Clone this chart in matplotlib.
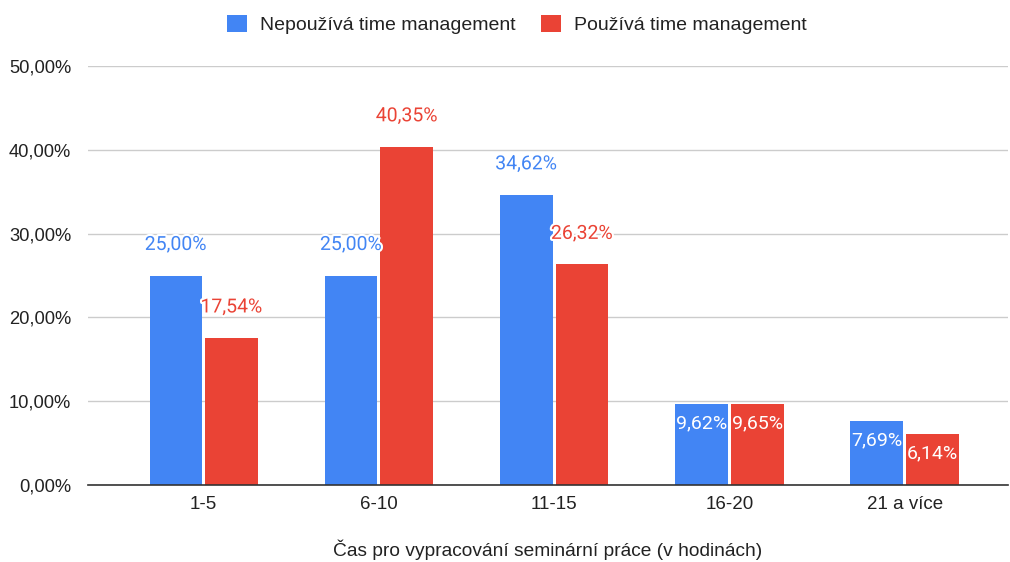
import matplotlib.pyplot as plt
import matplotlib.patheffects as pe
import numpy as np

categories = ['1-5', '6-10', '11-15', '16-20', '21 a více']
nepouziva = [25.00, 25.00, 34.62, 9.62, 7.69]
pouziva = [17.54, 40.35, 26.32, 9.65, 6.14]
series_names = ['Nepoužívá time management', 'Používá time management']
y_ticks = [0, 10, 20, 30, 40, 50]
inside_label = [False, False, False, True, True]  # small bars get white label inside

BLUE = '#4285F4'
RED = '#EA4335'

def pct(v):
    return f'{v:.2f}%'.replace('.', ',')

fig = plt.figure(figsize=(10.1, 5.62), dpi=100)
ax = fig.add_axes([88/1010, 1-485/562, 920/1010, (485-66)/562])

x = np.arange(len(categories))
w = 0.30
gap = 0.009
bars_a = ax.bar(x - w/2 - gap, nepouziva, w, color=BLUE, label=series_names[0], zorder=3)
bars_b = ax.bar(x + w/2 + gap, pouziva, w, color=RED, label=series_names[1], zorder=3)

# data labels
halo = [pe.withStroke(linewidth=3, foreground='white')]
for bars, vals, col in [(bars_a, nepouziva, BLUE), (bars_b, pouziva, RED)]:
    for i, (b, v) in enumerate(zip(bars, vals)):
        cx = b.get_x() + b.get_width()/2
        if inside_label[i]:
            ax.annotate(pct(v), (cx, v), xytext=(0, -14), textcoords='offset points',
                        ha='center', va='center', color='white', fontsize=14,
                        family='Roboto', zorder=4)
        else:
            ax.annotate(pct(v), (cx, v), xytext=(0, 22), textcoords='offset points',
                        ha='center', va='center', color=col, fontsize=14,
                        family='Roboto', zorder=4, path_effects=halo)

ax.set_xlim(-0.66, 4.59)
ax.set_ylim(0, 50)
ax.set_yticks(y_ticks)
ax.set_yticklabels([pct(t) for t in y_ticks], family='Liberation Sans', fontsize=13.2, color='#222222')
ax.set_xticks(x)
ax.set_xticklabels(categories, family='Liberation Sans', fontsize=13.5, color='#222222')
ax.tick_params(length=0)
ax.tick_params(axis='y', pad=12)
ax.tick_params(axis='x', pad=8)
ax.grid(axis='y', color='#cccccc', linewidth=1, zorder=0)
ax.set_axisbelow(True)
for s in ['top', 'right', 'left']:
    ax.spines[s].set_visible(False)
ax.spines['bottom'].set_color('#333333')
ax.spines['bottom'].set_linewidth(1.2)
ax.spines['bottom'].set_zorder(5)

ax.set_xlabel('Čas pro vypracování seminární práce (v hodinách)', family='Liberation Sans',
              fontsize=13.8, color='#222222', labelpad=19)

leg = fig.legend(loc='center', bbox_to_anchor=(0.512, 1-24.5/562), ncol=2, frameon=False,
                 prop={'family': 'Liberation Sans', 'size': 14},
                 handlelength=1.03, handleheight=1.0, handletextpad=0.67, columnspacing=1.29)
for t in leg.get_texts():
    t.set_color('#222222')

plt.savefig('out.png', dpi=100)
plt.close()
